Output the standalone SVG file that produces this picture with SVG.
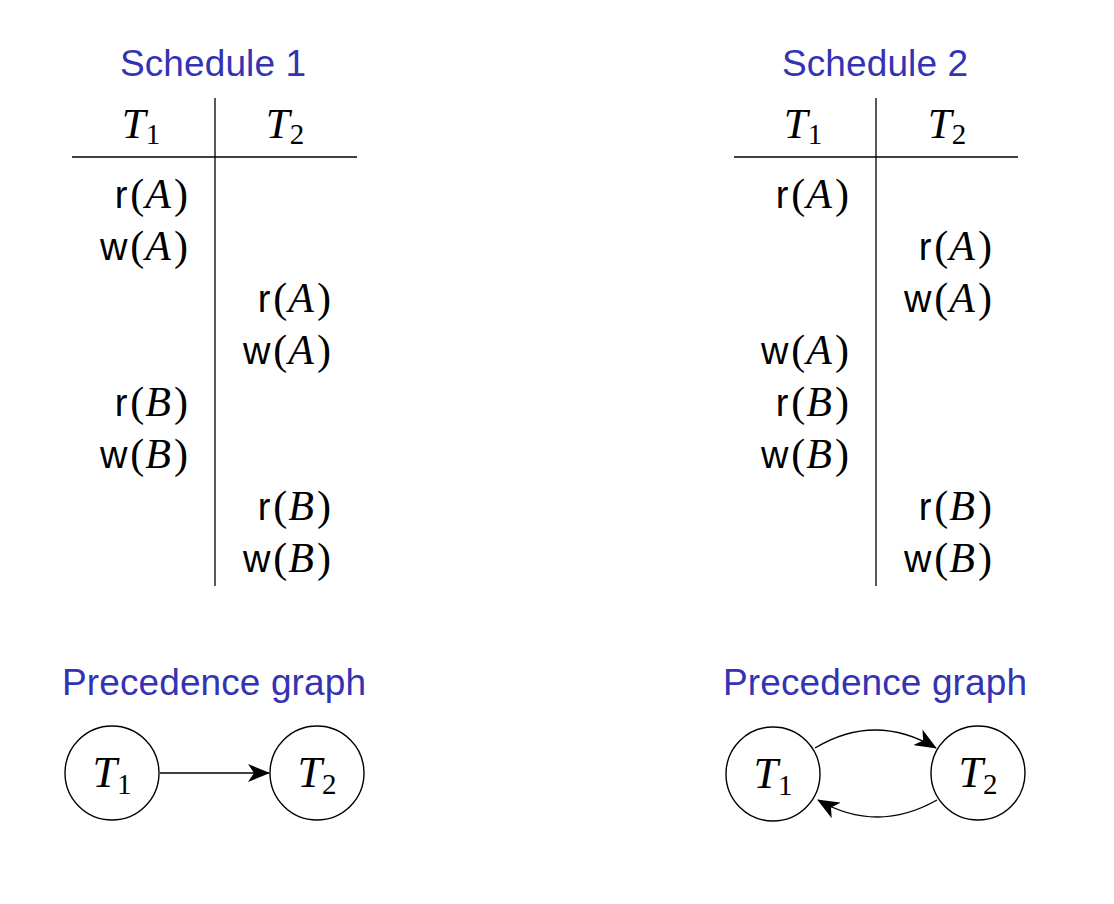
<svg xmlns="http://www.w3.org/2000/svg" width="1114" height="904" viewBox="0 0 1114 904">
<defs>
<style>
.title{font-family:"Liberation Sans","DejaVu Sans",sans-serif;font-size:37px;fill:#3333b3;text-anchor:middle}
.op{font-family:"Liberation Serif",serif;font-size:42px;fill:#000;text-anchor:end}
.sf{font-family:"Liberation Sans",sans-serif;font-size:38px}
.it{font-style:italic}
.hd{font-family:"Liberation Serif",serif;font-size:43px;font-style:italic;fill:#000;text-anchor:middle}
.node{font-family:"Liberation Serif",serif;font-size:44px;font-style:italic;fill:#000;text-anchor:middle}
.sub{font-style:normal;font-size:29px}
.rule{stroke:#000;stroke-width:1.3;fill:none}
.edge{stroke:#000;stroke-width:1.4;fill:none;marker-end:url(#ah)}
circle{fill:#fff;stroke:#000;stroke-width:1.4}
</style>
<marker id="ah" viewBox="0 0 22 18" refX="21" refY="9" markerWidth="22" markerHeight="18" markerUnits="userSpaceOnUse" orient="auto">
<path d="M0,0 L22,9 L0,18 L6,9 Z" fill="#000"/>
</marker>
</defs>

<g id="schedule1">
<text class="title" x="213" y="76" textLength="186">Schedule 1</text>
<line class="rule" x1="215" y1="98" x2="215" y2="586"/>
<line class="rule" x1="72" y1="157" x2="357" y2="157"/>
<text class="hd" x="141" y="138">T<tspan class="sub" dy="6">1</tspan></text>
<text class="hd" x="285" y="138">T<tspan class="sub" dy="6">2</tspan></text>
<text class="op" x="188" y="208"><tspan class="sf">r</tspan><tspan dx="3">(</tspan><tspan class="it" dx="1">A</tspan><tspan dx="3">)</tspan></text>
<text class="op" x="188" y="260"><tspan class="sf">w</tspan><tspan dx="3">(</tspan><tspan class="it" dx="1">A</tspan><tspan dx="3">)</tspan></text>
<text class="op" x="331" y="312"><tspan class="sf">r</tspan><tspan dx="3">(</tspan><tspan class="it" dx="1">A</tspan><tspan dx="3">)</tspan></text>
<text class="op" x="331" y="364"><tspan class="sf">w</tspan><tspan dx="3">(</tspan><tspan class="it" dx="1">A</tspan><tspan dx="3">)</tspan></text>
<text class="op" x="188" y="416"><tspan class="sf">r</tspan><tspan dx="3">(</tspan><tspan class="it" dx="1">B</tspan><tspan dx="3">)</tspan></text>
<text class="op" x="188" y="468"><tspan class="sf">w</tspan><tspan dx="3">(</tspan><tspan class="it" dx="1">B</tspan><tspan dx="3">)</tspan></text>
<text class="op" x="331" y="520"><tspan class="sf">r</tspan><tspan dx="3">(</tspan><tspan class="it" dx="1">B</tspan><tspan dx="3">)</tspan></text>
<text class="op" x="331" y="572"><tspan class="sf">w</tspan><tspan dx="3">(</tspan><tspan class="it" dx="1">B</tspan><tspan dx="3">)</tspan></text>
</g>

<g id="schedule2">
<text class="title" x="875" y="76" textLength="186">Schedule 2</text>
<line class="rule" x1="876" y1="98" x2="876" y2="586"/>
<line class="rule" x1="734" y1="157" x2="1018" y2="157"/>
<text class="hd" x="803" y="138">T<tspan class="sub" dy="6">1</tspan></text>
<text class="hd" x="947" y="138">T<tspan class="sub" dy="6">2</tspan></text>
<text class="op" x="849" y="208"><tspan class="sf">r</tspan><tspan dx="3">(</tspan><tspan class="it" dx="1">A</tspan><tspan dx="3">)</tspan></text>
<text class="op" x="992" y="260"><tspan class="sf">r</tspan><tspan dx="3">(</tspan><tspan class="it" dx="1">A</tspan><tspan dx="3">)</tspan></text>
<text class="op" x="992" y="312"><tspan class="sf">w</tspan><tspan dx="3">(</tspan><tspan class="it" dx="1">A</tspan><tspan dx="3">)</tspan></text>
<text class="op" x="849" y="364"><tspan class="sf">w</tspan><tspan dx="3">(</tspan><tspan class="it" dx="1">A</tspan><tspan dx="3">)</tspan></text>
<text class="op" x="849" y="416"><tspan class="sf">r</tspan><tspan dx="3">(</tspan><tspan class="it" dx="1">B</tspan><tspan dx="3">)</tspan></text>
<text class="op" x="849" y="468"><tspan class="sf">w</tspan><tspan dx="3">(</tspan><tspan class="it" dx="1">B</tspan><tspan dx="3">)</tspan></text>
<text class="op" x="992" y="520"><tspan class="sf">r</tspan><tspan dx="3">(</tspan><tspan class="it" dx="1">B</tspan><tspan dx="3">)</tspan></text>
<text class="op" x="992" y="572"><tspan class="sf">w</tspan><tspan dx="3">(</tspan><tspan class="it" dx="1">B</tspan><tspan dx="3">)</tspan></text>
</g>

<text class="title" x="214" y="695" textLength="304">Precedence graph</text>
<text class="title" x="875" y="695" textLength="304">Precedence graph</text>

<g id="connectors">
<line class="edge" x1="160" y1="773" x2="269" y2="773"/>
<path class="edge" d="M815,748 Q875,712 936,748"/>
<path class="edge" d="M937,800 Q877,834 818,800"/>
</g>

<g id="g1-T1">
<circle cx="112" cy="773" r="47"/>
<text class="node" x="112" y="787">T<tspan class="sub" dy="7">1</tspan></text>
</g>
<g id="g1-T2">
<circle cx="317" cy="773" r="47"/>
<text class="node" x="317" y="787">T<tspan class="sub" dy="7">2</tspan></text>
</g>
<g id="g2-T1">
<circle cx="773" cy="774" r="47"/>
<text class="node" x="773" y="788">T<tspan class="sub" dy="7">1</tspan></text>
</g>
<g id="g2-T2">
<circle cx="978" cy="773" r="47"/>
<text class="node" x="978" y="787">T<tspan class="sub" dy="7">2</tspan></text>
</g>
</svg>
